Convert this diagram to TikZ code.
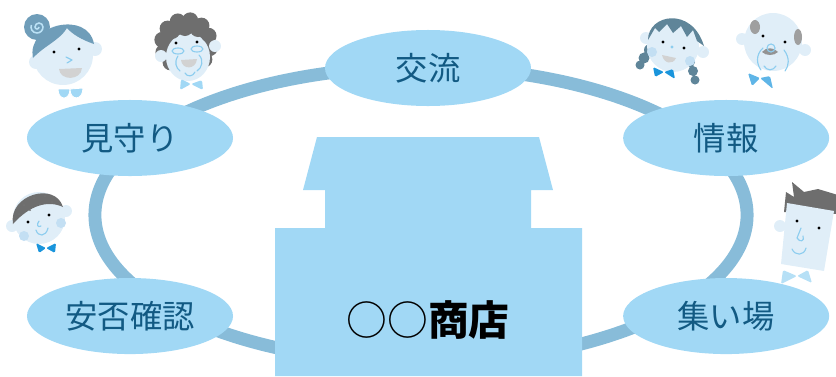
\documentclass[tikz,border=0pt]{standalone}
\usepackage{fontspec}
\setmainfont{Noto Sans CJK JP}
\usetikzlibrary{shapes.geometric, positioning}
\definecolor{ringblue}{HTML}{88BCD9}
\definecolor{paleblue}{HTML}{A1D8F5}
\definecolor{inkblue}{HTML}{125A83}
\definecolor{skin}{HTML}{E0EEF8}
\definecolor{cheek}{HTML}{C3DFF3}
\definecolor{linebl}{HTML}{8DCDEF}
\definecolor{bowblue}{HTML}{1A95DC}
\definecolor{hairblue}{HTML}{6F9DB9}
\definecolor{hairslate}{HTML}{5F8599}
\definecolor{hairgray}{HTML}{6E6E6E}
\definecolor{mouthgray}{HTML}{D2D2D2}
\tikzstyle{topic} = [ellipse, fill=paleblue, text=inkblue, minimum width=5.15cm, minimum height=1.9cm, inner sep=0pt, font=\fontsize{23}{23}\selectfont]
\tikzstyle{stroke} = [draw=linebl, line width=0.8pt, line cap=round, line join=round]
\tikzstyle{eye} = [fill=black]

\begin{document}
\begin{tikzpicture}[x=0.025cm, y=-0.025cm]
  \useasboundingbox (0,0) rectangle (836,376);

  \draw[ringblue, line width=9.2pt] (421,215) ellipse [x radius=8.15cm, y radius=3.7cm];

  % the shop
  \fill[paleblue] (317,137) -- (539,137) -- (553,190) -- (531,190) -- (531,228) -- (582,228)
    -- (582,376) -- (275,376) -- (275,228) -- (325,228) -- (325,190) -- (303,190) -- cycle;
  \node[font=\fontsize{29}{29}\selectfont] (shop) at (428,320) {○○\textbf{商店}};

  % woman with bun
  \fill[skin] (36,62) circle (7) (95,49) circle (7) (63,55) circle (30);
  \fill[hairblue] (33,58) .. controls (26,24) and (88,10) .. (94,44) .. controls (82,40) and (72,34) .. (67,28)
    .. controls (60,40) and (44,46) .. (33,58) -- cycle;
  \fill[hairblue] (37,27) circle (13);
  \draw[linebl!60!white, line width=1.1pt] (39,27) arc[start angle=0, end angle=180, radius=2]
    arc[start angle=180, end angle=360, radius=4] arc[start angle=0, end angle=200, radius=6];
  \fill[eye] (54,52) circle (1.6) (79,49) circle (1.6);
  \draw[stroke] (66,57) -- (72,60) -- (67,63);
  \fill[mouthgray] (59,69) .. controls (60,81) and (81,81) .. (82,68) -- cycle;
  \filldraw[fill=paleblue, draw=white, line width=0.6pt] (58,89) .. controls (58,101) and (70,101) .. (70,89) -- cycle
    (70,89) .. controls (70,101) and (83,101) .. (83,88) -- cycle;

  % grandma with curls
  \fill[hairgray] (186,46) ellipse (26 and 30);
  \begin{scope}[shift={(186,44)}]
    \foreach \a in {130,160,...,410}
      \fill[hairgray] (\a:24) circle (8);
  \end{scope}
  \fill[skin] (161,56) circle (6) (215,46) circle (6) (188,57) ellipse (22 and 24);
  \fill[hairgray] (172,31) circle (8) (185,28) circle (8) (198,29) circle (8) (208,35) circle (7);
  \fill[eye] (176,43) circle (1.6) (197,42) circle (1.6);
  \draw[stroke] (178,51) ellipse (6 and 3) (197,49) ellipse (6 and 3);
  \fill[mouthgray] (181,60) .. controls (182,70) and (196,70) .. (197,59) -- cycle;
  \draw[stroke] (178,56) .. controls (174,62) and (176,68) .. (180,71)
    (199,55) .. controls (204,60) and (202,68) .. (197,71)
    (185,73) .. controls (187,77) and (193,77) .. (195,72);
  \fill[paleblue, rounded corners=1.5pt] (191,84) -- (181,79) -- (180,90) -- cycle (191,84) -- (202,80) -- (203,90) -- cycle;

  % girl with pigtails
  \fill[hairslate] (650,50) circle (6) (644,58) circle (5.5) (640,65) circle (4.5)
    (690,62) circle (5) (693,71) circle (5) (695,80) circle (4.5);
  \fill[skin] (646,38) circle (6) (703,52) circle (6) (673,46) circle (26);
  \fill[hairslate] (648,40) .. controls (648,14) and (692,6) .. (704,46) -- (697,41) -- (693,30) -- (687,37)
    -- (681,26) -- (673,33) -- (667,24) -- (659,32) -- (655,28) -- cycle;
  \fill[cheek] (652,52) circle (5) (690,61) circle (5);
  \fill[eye] (663,42) circle (1.6) (684,48) circle (1.6);
  \fill[linebl] (672,47) circle (1.6);
  \fill[mouthgray] (662,55) .. controls (664,64) and (673,65) .. (676,58) -- cycle;
  \fill[bowblue, rounded corners=1pt] (664,72) -- (653,67) -- (655,77) -- cycle (664,72) -- (673,69) -- (675,79) -- cycle;

  % bald grandpa
  \fill[skin] (742,39) circle (6) (805,50) circle (6) (773,42) circle (29);
  \fill[gray!75] (755,27) ellipse (5 and 7) (798,37) ellipse (4 and 8);
  \fill[eye] (763,36) circle (1.6) (785,42) circle (1.6);
  \fill[gray!85] (762,52) .. controls (766,47) and (774,47) .. (778,52) .. controls (774,56) and (766,56) .. (762,52) -- cycle;
  \draw[stroke] (771,48) circle (4)
    (763,48) .. controls (755,55) and (757,65) .. (761,70)
    (784,50) .. controls (790,58) and (789,66) .. (785,71)
    (764,66) .. controls (767,71) and (773,71) .. (776,66);
  \fill[bowblue!70!white, rounded corners=1pt] (760,78) -- (748,73) -- (752,86) -- cycle (760,78) -- (770,76) -- (773,89) -- cycle;

  % boy
  \fill[skin] (12,226) circle (6) (66,211) circle (6) (39,218) circle (26);
  \fill[hairgray] (13,224) .. controls (8,195) and (55,181) .. (63,207) .. controls (48,200) and (30,205) .. (13,224) -- cycle;
  \fill[black!55] (24,205) circle (1) (34,198) circle (1) (45,196) circle (1) (30,210) circle (1)
    (52,202) circle (1) (19,214) circle (1) (40,204) circle (1);
  \fill[cheek] (24,236) circle (5) (61,223) circle (5);
  \fill[eye] (28,222) circle (1.6) (49,215) circle (1.6);
  \draw[stroke] (39,221) .. controls (36,225) and (38,228) .. (41,226)
    (36,230) .. controls (38,237) and (46,237) .. (48,228);
  \fill[bowblue, rounded corners=1pt] (46,248) -- (36,243) -- (39,253) -- cycle (46,248) -- (56,243) -- (55,253) -- cycle;

  % young man
  \fill[hairgray] (784,212) -- (786,192) -- (794,197) -- (792,182) -- (804,192) -- (818,189) -- (838,195) -- (838,214) -- cycle;
  \fill[paleblue!80!bowblue!60, rounded corners=1pt] (797,276) -- (783,270) -- (781,284) -- cycle (797,276) -- (808,270) -- (812,283) -- cycle;
  \fill[skin] (780,226) circle (6) (787,203) -- (834,211) -- (824,271) -- (781,264) -- cycle;
  \fill[eye] (797,221) circle (1.6) (819,228) circle (1.6);
  \draw[stroke] (801,228) -- (797,238) .. controls (800,243) and (805,241) .. (803,236)
    (792,249) .. controls (795,256) and (804,256) .. (806,248);

  \node[topic] (kouryu) at (428,68) {交流};
  \node[topic] (mimamori) at (130,138) {見守り};
  \node[topic, right of=mimamori, node distance=14.9cm] (jouhou) {情報};
  \node[topic, below of=mimamori, node distance=4.45cm] (anpi) {安否確認};
  \node[topic, below of=jouhou, node distance=4.45cm] (tsudoi) {集い場};
\end{tikzpicture}
\end{document}
